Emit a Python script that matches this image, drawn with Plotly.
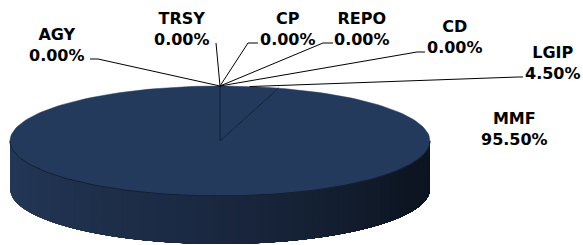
import math
import plotly.graph_objects as go

# ---- data ----
categories = ["AGY", "TRSY", "CP", "REPO", "CD", "LGIP", "MMF"]
values = [0.00, 0.00, 0.00, 0.00, 0.00, 4.50, 95.50]

# ---- pie geometry (pixel-like frame) ----
W, H = 583, 245
CX, CY, RX, RY, DEPTH = 220, 141, 210, 55, 48

TOP = "rgb(36,58,92)"
EDGE = "rgb(18,30,50)"


def pt(theta_deg, dy=0.0):
    """theta measured clockwise from 12 o'clock"""
    t = math.radians(theta_deg)
    return CX + RX * math.sin(t), CY - RY * math.cos(t) + dy


fig = go.Figure()

# ---- side (front half), gradient layers ----
N = 90
left_c = (36, 57, 90)
mid_c = (27, 42, 67)
right_c = (13, 21, 34)


def grad(f):
    if f < 0.45:
        a, b, g = left_c, mid_c, f / 0.45
    else:
        a, b, g = mid_c, right_c, min(1.0, (f - 0.45) / 0.4)
    return "rgb(%d,%d,%d)" % tuple(round(a[i] + (b[i] - a[i]) * g) for i in range(3))


for i in range(N):
    t0 = 270 - 180 * i / N
    ts = [t0 - (t0 - 90) * k / 60 for k in range(61)]
    xs, ys = [], []
    for t in ts:
        x, y = pt(t)
        xs.append(x); ys.append(y)
    for t in reversed(ts):
        x, y = pt(t, DEPTH)
        xs.append(x); ys.append(y)
    xs.append(xs[0]); ys.append(ys[0])
    c = grad((i + 0.5) / N)
    fig.add_trace(go.Scatter(x=xs, y=ys, mode="lines", fill="toself",
                             fillcolor=c, line=dict(width=0),
                             hoverinfo="skip", showlegend=False))

# ---- top face slices computed from values ----
total = sum(values)
start = 0.0
mids = []
for cat, v in zip(categories, values):
    span = 360.0 * v / total
    mids.append(start + span / 2)
    if span > 0:
        n = max(2, int(span / 2))
        xs, ys = [CX], [CY]
        for k in range(n + 1):
            x, y = pt(start + span * k / n)
            xs.append(x); ys.append(y)
        xs.append(CX); ys.append(CY)
        fig.add_trace(go.Scatter(x=xs, y=ys, mode="lines", fill="toself",
                                 fillcolor=TOP, line=dict(color=TOP, width=0.5),
                                 hoverinfo="skip", showlegend=False))
    start += span

# slice divider lines
start = 0.0
for v in values:
    x, y = pt(start)
    if v > 0:
        fig.add_trace(go.Scatter(x=[CX, x], y=[CY, y], mode="lines",
                                 line=dict(color=EDGE, width=1),
                                 hoverinfo="skip", showlegend=False))
    start += 360.0 * v / total

# front rim edge of top face
xs, ys = [], []
for k in range(121):
    x, y = pt(90 + 180 * k / 120)
    xs.append(x); ys.append(y)
fig.add_trace(go.Scatter(x=xs, y=ys, mode="lines", line=dict(color=EDGE, width=1),
                         hoverinfo="skip", showlegend=False))

# ---- labels ----
label_pos = {
    "AGY": (57, 45), "TRSY": (182, 29), "CP": (288, 29), "REPO": (362, 29),
    "CD": (455, 37), "LGIP": (553, 63), "MMF": (514, 129),
}
leader = {
    "AGY": [(90, 59), (98, 59)],
    "TRSY": [(216, 43)],
    "CP": [(258, 43), (248, 43)],
    "REPO": [(333, 43), (323, 43)],
    "CD": [(425, 52), (417, 52)],
    "LGIP": [(523, 77), (518, 77)],
}
for cat, v, m in zip(categories, values, mids):
    lx, ly = label_pos[cat]
    fig.add_annotation(x=lx, y=ly, text="%s<br>%.2f%%" % (cat, v),
                       showarrow=False, xanchor="center", yanchor="middle",
                       align="center",
                       font=dict(family="DejaVu Sans", size=16, color="#000000",
                                 weight="bold"))
    if cat in leader:
        px, py = pt(m)
        pts = leader[cat] + [(px, py)]
        fig.add_trace(go.Scatter(x=[p[0] for p in pts], y=[p[1] for p in pts],
                                 mode="lines", line=dict(color="#000000", width=1),
                                 hoverinfo="skip", showlegend=False))

fig.update_layout(
    width=W, height=H, margin=dict(l=0, r=0, t=0, b=0),
    paper_bgcolor="white", plot_bgcolor="white",
    xaxis=dict(range=[0, W], visible=False, fixedrange=True),
    yaxis=dict(range=[H, 0], visible=False, fixedrange=True),
    showlegend=False,
)
fig.write_html("out.html", config={"displayModeBar": False, "staticPlot": True},
               post_script="document.body.style.margin='0';document.body.style.overflow='hidden';")
